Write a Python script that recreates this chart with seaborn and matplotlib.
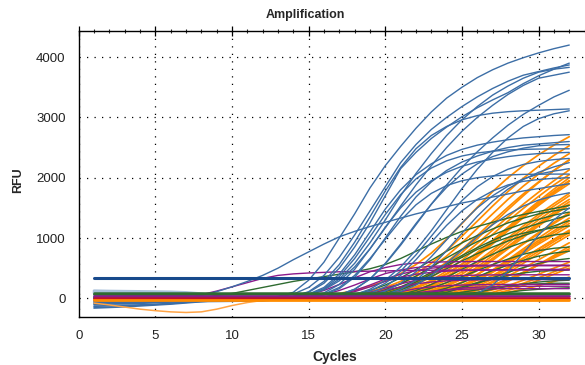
import numpy as np
import pandas as pd
import matplotlib
matplotlib.use("Agg")
import matplotlib.pyplot as plt
from matplotlib.ticker import MultipleLocator
import seaborn as sns

# ---------------- data (RFU) ----------------
cycles = list(range(1, 33))

blue_start = [13, 14, 13, 14, 14, 16, 14, 17, 14, 15, 16, 15, 17, 18, 18, 8, 19, 25, 14, 19, 15]
blue_rfu = [
    [30, 100, 300, 600, 1000, 1400, 1830, 2200, 2520, 2820, 3090, 3320, 3500, 3660, 3790, 3900, 3990, 4070, 4140, 4200],
    [30, 100, 250, 500, 850, 1250, 1700, 2150, 2420, 2650, 2840, 3010, 3160, 3290, 3410, 3560, 3690, 3800, 3900],
    [20, 70, 180, 380, 680, 1050, 1450, 1850, 2250, 2550, 2800, 3000, 3180, 3340, 3480, 3600, 3700, 3760, 3820, 3870],
    [20, 60, 150, 320, 580, 920, 1300, 1700, 2070, 2400, 2700, 2960, 3180, 3370, 3520, 3650, 3750, 3800, 3830],
    [20, 60, 140, 290, 520, 820, 1170, 1530, 1880, 2200, 2500, 2770, 3000, 3200, 3380, 3530, 3650, 3700, 3750],
    [20, 60, 150, 320, 570, 880, 1220, 1560, 1880, 2170, 2430, 2660, 2870, 3050, 3200, 3340, 3450],
    [30, 110, 280, 560, 930, 1350, 1780, 2170, 2480, 2700, 2850, 2960, 3030, 3070, 3095, 3110, 3120, 3130, 3140],
    [20, 60, 150, 300, 520, 800, 1120, 1470, 1820, 2140, 2420, 2660, 2850, 2980, 3060, 3110],
    [20, 70, 180, 400, 720, 1100, 1480, 1800, 2050, 2230, 2370, 2470, 2540, 2590, 2630, 2660, 2680, 2700, 2714],
    [20, 60, 160, 350, 640, 1000, 1360, 1680, 1930, 2120, 2260, 2360, 2440, 2500, 2540, 2560, 2580, 2600],
    [20, 60, 150, 320, 580, 900, 1240, 1560, 1840, 2060, 2230, 2350, 2430, 2490, 2530, 2545, 2550],
    [30, 90, 230, 480, 820, 1180, 1500, 1760, 1950, 2090, 2190, 2260, 2310, 2350, 2380, 2400, 2410, 2420],
    [20, 50, 120, 250, 450, 720, 1030, 1340, 1620, 1850, 2020, 2140, 2220, 2270, 2300, 2320],
    [20, 50, 120, 250, 440, 690, 970, 1250, 1500, 1700, 1860, 1980, 2060, 2110, 2150],
    [30, 80, 190, 380, 640, 930, 1210, 1450, 1640, 1780, 1880, 1940, 1970, 1990, 2000],
    [50, 110, 190, 280, 380, 500, 640, 770, 900, 1020, 1110, 1190, 1260, 1330, 1400, 1460, 1520, 1580, 1630, 1680, 1730, 1780, 1820, 1860, 1900],
    [20, 50, 110, 220, 380, 580, 800, 1020, 1220, 1390, 1530, 1630, 1700, 1750],
    [20, 80, 220, 450, 750, 1050, 1300, 1500],
    [20, 60, 160, 360, 660, 1020, 1390, 1720, 1980, 2160, 2280, 2360, 2410, 2440, 2460, 2470, 2475, 2478, 2480],
    [20, 60, 150, 300, 520, 790, 1080, 1360, 1610, 1810, 1970, 2090, 2180, 2250],
    [20, 70, 180, 380, 660, 980, 1290, 1550, 1740, 1870, 1950, 2000, 2030, 2045, 2055, 2058, 2060, 2060],
]

orange_start = [17, 18, 18, 19, 19, 20, 19, 20, 21, 20, 21, 21, 22, 21, 22, 22,
                23, 22, 23, 23, 24, 23, 24, 25, 24, 25, 26, 25, 20, 22, 24, 21,
                19, 20, 21, 22]
orange_rfu = [
    [80, 130, 200, 290, 410, 560, 750, 980, 1240, 1510, 1770, 2000, 2200, 2380, 2540, 2680],
    [60, 110, 180, 280, 410, 580, 790, 1030, 1280, 1530, 1770, 1990, 2190, 2370, 2530],
    [50, 90, 150, 240, 360, 510, 700, 920, 1160, 1400, 1640, 1860, 2060, 2240, 2400],
    [60, 110, 180, 280, 420, 600, 810, 1040, 1280, 1510, 1730, 1930, 2120, 2290],
    [40, 80, 140, 230, 350, 510, 700, 910, 1130, 1350, 1560, 1760, 1950, 2130],
    [60, 110, 190, 300, 450, 630, 840, 1060, 1280, 1490, 1690, 1880, 2050],
    [30, 60, 110, 180, 280, 410, 570, 760, 960, 1170, 1380, 1580, 1770, 1950],
    [40, 80, 140, 230, 360, 520, 710, 920, 1130, 1340, 1540, 1730, 1900],
    [60, 120, 210, 340, 510, 710, 930, 1150, 1370, 1580, 1770, 1950],
    [30, 60, 110, 190, 300, 440, 610, 800, 1000, 1200, 1390, 1570, 1740],
    [40, 90, 160, 260, 400, 570, 760, 960, 1160, 1350, 1530, 1700],
    [30, 70, 130, 220, 340, 490, 660, 850, 1040, 1220, 1400, 1560],
    [50, 110, 200, 320, 480, 660, 860, 1060, 1250, 1430, 1600],
    [20, 50, 100, 170, 270, 400, 550, 720, 900, 1070, 1240, 1400],
    [40, 90, 160, 260, 390, 550, 730, 910, 1090, 1260, 1420],
    [30, 70, 130, 210, 320, 460, 620, 790, 960, 1120, 1280],
    [50, 110, 200, 320, 470, 640, 820, 1000, 1170, 1330],
    [20, 50, 100, 170, 260, 380, 520, 670, 820, 970, 1110],
    [30, 70, 140, 230, 350, 500, 660, 820, 980, 1130],
    [20, 50, 100, 170, 260, 370, 500, 640, 780, 920],
    [40, 90, 170, 280, 420, 580, 740, 900, 1050],
    [20, 40, 80, 140, 220, 320, 430, 550, 670, 790],
    [30, 70, 130, 210, 310, 430, 560, 690, 820],
    [40, 90, 170, 280, 410, 560, 710, 860],
    [20, 40, 80, 140, 210, 300, 400, 500, 600],
    [20, 50, 100, 170, 250, 340, 440, 540],
    [30, 70, 130, 210, 300, 400, 500],
    [10, 30, 60, 100, 150, 210, 280, 350],
    [50, 100, 170, 270, 400, 560, 750, 960, 1180, 1400, 1610, 1810, 2000],
    [60, 120, 220, 350, 520, 710, 910, 1110, 1300, 1480, 1640],
    [50, 110, 200, 320, 460, 620, 780, 940, 1090],
    [20, 40, 80, 140, 220, 330, 460, 610, 770, 930, 1090, 1240],
    [40, 90, 160, 260, 390, 560, 760, 990, 1230, 1470, 1700, 1920, 2120, 2300],
    [30, 70, 130, 220, 340, 500, 690, 900, 1120, 1340, 1550, 1750, 1940],
    [30, 70, 130, 210, 320, 460, 630, 820, 1010, 1200, 1380, 1550],
    [30, 70, 120, 200, 300, 430, 580, 740, 900, 1050, 1200],
]

green_start = [9, 17, 18, 18, 19, 20, 20, 21, 22, 21, 23, 22, 24, 19]
green_rfu = [
    [50, 80, 130, 180, 230, 280, 320, 360, 400, 440, 490, 560, 660, 780, 900, 1010, 1110, 1190, 1260, 1330, 1390, 1440, 1490, 1540],
    [30, 70, 130, 220, 340, 480, 630, 780, 920, 1040, 1150, 1250, 1330, 1400, 1450, 1490],
    [30, 70, 140, 240, 370, 520, 670, 810, 940, 1050, 1150, 1240, 1310, 1380, 1430],
    [20, 50, 110, 190, 300, 430, 570, 710, 840, 960, 1070, 1160, 1240, 1310, 1380],
    [30, 70, 140, 240, 360, 490, 620, 740, 850, 950, 1040, 1120, 1200, 1290],
    [20, 60, 130, 230, 350, 480, 610, 730, 840, 930, 1000, 1050, 1080],
    [20, 50, 100, 170, 260, 360, 460, 560, 650, 730, 790, 830, 850],
    [20, 50, 100, 170, 260, 360, 460, 550, 630, 700, 750, 780],
    [20, 50, 100, 170, 250, 340, 430, 510, 580, 630, 660],
    [20, 40, 80, 130, 190, 260, 320, 380, 420, 450, 460, 470],
    [10, 30, 60, 100, 150, 200, 240, 270, 290, 300],
    [10, 30, 60, 100, 140, 180, 210, 230, 240, 250, 250],
    [10, 20, 40, 70, 100, 130, 150, 165, 175],
    [30, 80, 160, 270, 400, 540, 680, 810, 920, 1010, 1080, 1130, 1170, 1200],
]

purple_start = [8, 14, 15, 16, 17, 17, 18, 19, 16, 20]
purple_rfu = [
    [60, 120, 190, 260, 330, 380, 405, 420, 430, 440, 445, 450, 455, 460, 462, 465, 467, 469, 470, 472, 474, 476, 478, 480, 480],
    [20, 60, 130, 230, 340, 440, 510, 560, 585, 598, 605, 608, 610, 610, 610, 610, 610, 610, 610],
    [20, 60, 130, 220, 320, 410, 470, 510, 530, 540, 545, 548, 550, 550, 550, 550, 550, 550],
    [20, 50, 110, 190, 280, 350, 400, 430, 450, 460, 465, 468, 470, 470, 470, 470, 470],
    [20, 50, 100, 170, 240, 300, 340, 365, 378, 385, 388, 390, 390, 390, 390, 390],
    [10, 30, 70, 130, 190, 240, 270, 290, 300, 305, 308, 310, 310, 310, 310, 310],
    [10, 30, 60, 110, 160, 190, 210, 220, 225, 228, 230, 230, 230, 230, 230],
    [10, 30, 60, 90, 120, 140, 150, 155, 158, 160, 160, 160, 160, 160],
    [20, 60, 130, 220, 320, 400, 460, 500, 520, 530, 535, 538, 540, 540, 540, 540, 540],
    [10, 30, 60, 100, 140, 170, 185, 192, 196, 198, 200, 200, 200],
]

# noisy early blue baselines (cycle 1 onward)
blue_noise_rfu = [
    [-160, -150, -140, -125, -110, -95, -75, -55, -35, -15, 0],
    [-130, -125, -118, -110, -100, -85, -65, -45, -25, -10, 0],
    [-100, -95, -90, -82, -72, -60, -45, -30, -15, -5, 0],
    [-80, -75, -70, -62, -55, -45, -35, -25, -15, -5, 0],
    [-60, -62, -64, -66, -62, -58, -55, -52, -50, -48, -45, -40, -20, 0],
    [-40, -38, -35, -32, -28, -22, -15, -8, -2, 0],
    [60, 58, 55, 52, 50, 45, 40, 30, 20, 10, 0],
    [30, 28, 26, 25, 24, 22, 18, 12, 6, 0],
]
light_blue_noise_rfu = [
    [125, 120, 117, 114, 111, 107, 97, 77, 47, 20, 5, 0],
    [105, 102, 100, 98, 96, 93, 84, 62, 35, 12, 0],
    [88, 86, 84, 83, 81, 79, 72, 52, 28, 8, 0],
]
orange_dip_rfu = [-80, -110, -145, -180, -205, -225, -235, -225, -180, -120, -70, -35, -15, 0]

flat_navy = [335]
flat_green = [80, 68]
flat_purple = [40]
flat_red = [10]
flat_orange = [-30]

# ---------------- build tables ----------------
def growth_table(starts, curves):
    rows = []
    for i, (s, v) in enumerate(zip(starts, curves)):
        vals = [0] * (s - 1) + list(v)
        for c, r in zip(cycles, vals):
            rows.append((i, c, r))
    return pd.DataFrame(rows, columns=["well", "cycle", "rfu"])

def short_table(curves):
    rows = []
    for i, v in enumerate(curves):
        for c, r in zip(cycles, v):
            rows.append((i, c, r))
    return pd.DataFrame(rows, columns=["well", "cycle", "rfu"])

def flat_table(levels):
    rows = []
    for i, lv in enumerate(levels):
        for c in cycles:
            rows.append((i, c, lv))
    return pd.DataFrame(rows, columns=["well", "cycle", "rfu"])

df_blue = growth_table(blue_start, blue_rfu)
df_orange = growth_table(orange_start, orange_rfu)
df_green = growth_table(green_start, green_rfu)
df_purple = growth_table(purple_start, purple_rfu)
df_noise = short_table(blue_noise_rfu)
df_lnoise = short_table(light_blue_noise_rfu)
df_dip = short_table([orange_dip_rfu])

# ---------------- plot ----------------
sns.set_style("white")
plt.rcParams["font.family"] = ["Liberation Sans", "DejaVu Sans"]

fig = plt.figure(figsize=(5.85, 3.65), dpi=100)
ax = fig.add_axes([78.7 / 585, 48 / 365, (585 - 78.7) / 585, 286 / 365])

C_BLUE = "#3c6ea6"
C_LBLUE = "#a8c0da"
C_ORANGE = "#ff8c00"
C_LORANGE = "#ffa445"
C_GREEN = "#2e6b30"
C_PURPLE = "#8b1a8b"
C_NAVY = "#184a8c"
C_RED = "#c0102a"

def draw(df, color, lw, z, alpha=1.0):
    sns.lineplot(data=df, x="cycle", y="rfu", units="well", estimator=None,
                 color=color, linewidth=lw, ax=ax, legend=False, zorder=z,
                 alpha=alpha, sort=False)

draw(df_lnoise, C_LBLUE, 2.0, 2)
draw(df_noise, C_BLUE, 1.3, 2.1)
draw(df_orange, C_ORANGE, 1.25, 3)
draw(df_dip, C_LORANGE, 1.1, 3)
draw(df_green, C_GREEN, 1.0, 4)
draw(df_purple, C_PURPLE, 1.0, 5)
draw(df_blue, C_BLUE, 1.0, 6)
draw(flat_table(flat_green), C_GREEN, 1.8, 7)
draw(flat_table(flat_purple), C_PURPLE, 1.8, 7.1)
draw(flat_table(flat_red), C_RED, 1.8, 7.2)
draw(flat_table(flat_orange), C_ORANGE, 2.0, 7.3)
draw(flat_table(flat_navy), C_NAVY, 2.2, 8)

ax.set_xlim(0, (585 - 78.7) / 15.33)
ax.set_ylim(-310, 4433)
ax.xaxis.set_major_locator(MultipleLocator(5))
ax.xaxis.set_minor_locator(MultipleLocator(1))
ax.yaxis.set_major_locator(MultipleLocator(1000))
ax.yaxis.set_minor_locator(MultipleLocator(200))
ax.set_xlabel("")
ax.set_ylabel("")

ax.grid(True, which="major", color="black", linestyle=(0, (1, 5)), linewidth=0.9)
ax.set_axisbelow(True)
for side in ["left", "bottom", "top"]:
    ax.spines[side].set_color("black")
    ax.spines[side].set_linewidth(1.0)
ax.spines["right"].set_visible(False)

ax.tick_params(axis="both", which="major", direction="inout", length=7, width=0.9,
               labelsize=9.5, colors="black", pad=6)
ax.tick_params(axis="both", which="minor", direction="inout", length=3.5, width=0.8)
ax.tick_params(axis="x", which="both", top=True, labeltop=False)
ax.tick_params(axis="y", which="both", right=False)
for lbl in ax.get_xticklabels() + ax.get_yticklabels():
    lbl.set_color("#222222")

fig.text(305 / 585, 1 - 15 / 365, "Amplification", ha="center", va="center",
         fontsize=9, fontweight="bold")
fig.text(335 / 585, 1 - 357 / 365, "Cycles", ha="center", va="center",
         fontsize=10, fontweight="bold")
fig.text(18 / 585, 1 - 180 / 365, "RFU", ha="center", va="center", rotation=90,
         fontsize=9, fontweight="bold")

fig.savefig("out.png", dpi=100)
